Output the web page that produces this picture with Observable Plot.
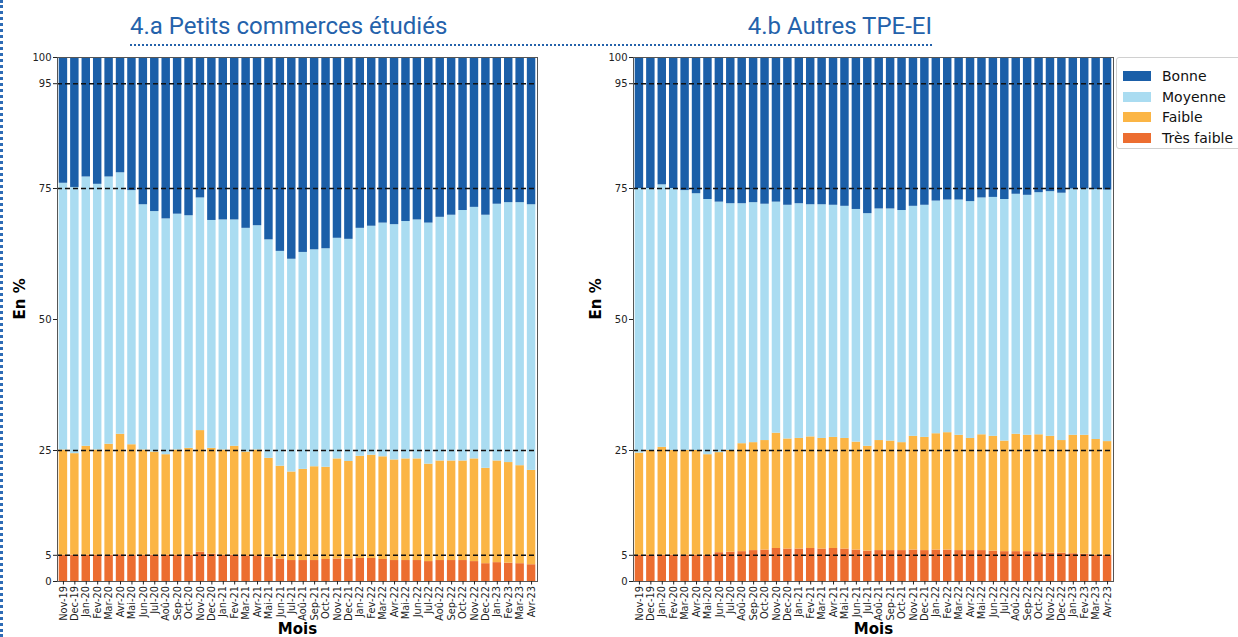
<!DOCTYPE html>
<html><head><meta charset="utf-8">
<script src="https://cdn.jsdelivr.net/npm/d3@7"></script>
<script src="https://cdn.jsdelivr.net/npm/@observablehq/plot@0.6"></script>
<style>
body{margin:0;background:#fff;width:1238px;height:637px;overflow:hidden;position:relative;font-family:"DejaVu Sans",sans-serif;}
.title{position:absolute;top:11px;font-family:Roboto,sans-serif;font-size:24px;line-height:30px;color:#2462ab;white-space:nowrap;}
#dots{position:absolute;left:130px;top:44px;width:802px;border-top:2px dotted #2462ab;}
#vdots{position:absolute;left:0;top:0;height:637px;border-left:3px dotted #2d6bb5;}
.panel{position:absolute;top:50px;}
#legend{position:absolute;left:1116px;top:57px;width:130px;height:92px;border:1px solid #d0d0d0;border-radius:3px;background:#fff;box-sizing:border-box;}
.li{position:absolute;left:6px;height:20px;display:flex;align-items:center;font-size:14px;color:#111;white-space:nowrap;}
.sw{width:28px;height:10px;margin-right:11px;}
</style></head><body>
<div id="vdots"></div>
<div class="title" style="left:130px">4.a Petits commerces étudiés</div>
<div class="title" style="right:306px">4.b Autres TPE-EI</div>
<div id="dots"></div>
<div id="left" class="panel" style="left:0px"></div>
<div id="right" class="panel" style="left:576px"></div>
<div id="legend"></div>
<script>
const months = ["Nov-19","Dec-19","Jan-20","Fev-20","Mar-20","Avr-20","Mai-20","Jun-20","Jul-20","Aoû-20","Sep-20","Oct-20","Nov-20","Dec-20","Jan-21","Fev-21","Mar-21","Avr-21","Mai-21","Jun-21","Jul-21","Aoû-21","Sep-21","Oct-21","Nov-21","Dec-21","Jan-22","Fev-22","Mar-22","Avr-22","Mai-22","Jun-22","Jul-22","Aoû-22","Sep-22","Oct-22","Nov-22","Dec-22","Jan-23","Fev-23","Mar-23","Avr-23"];
const categories = ["Très faible","Faible","Moyenne","Bonne"];
const legendOrder = ["Bonne","Moyenne","Faible","Très faible"];
const colors = ["#ec6d30","#fbb545","#aadcf1","#1b5fa8"];
const yTicks = [0,5,25,50,75,95,100];
const refLines = [5,25,75,95];

// 4.a Petits commerces étudiés (%)
const aTresFaible = [5.0,5.0,5.0,5.0,5.0,5.1,5.0,5.0,5.0,5.0,5.0,5.0,5.6,5.2,5.0,5.0,4.9,4.9,4.6,4.3,4.0,4.0,4.0,4.2,4.3,4.3,4.4,4.4,4.2,4.0,4.0,4.0,3.8,4.0,4.0,4.0,3.8,3.4,3.6,3.5,3.4,3.2];
const aFaible = [20.1,19.4,20.8,20.1,21.2,23.0,21.1,20.1,19.7,19.2,20.1,20.4,23.2,20.2,20.1,20.8,19.8,20.2,18.9,17.7,16.9,17.4,17.9,17.6,19.1,18.6,19.5,19.7,19.6,19.2,19.4,19.4,18.6,19.0,19.0,19.0,19.6,18.2,19.4,19.2,18.7,18.0];
const aMoyenne = [50.9,50.8,51.4,50.7,51.0,49.9,48.5,46.8,45.9,45.0,45.0,44.4,44.4,43.5,43.9,43.2,42.7,42.8,41.7,41.0,40.6,41.4,41.4,41.7,42.1,42.4,43.5,43.7,44.6,44.9,45.3,45.6,46.0,46.5,46.9,47.8,48.0,48.3,49.0,49.6,50.2,50.7];
const aBonne = [24.0,24.8,22.8,24.2,22.8,22.0,25.4,28.1,29.4,30.8,29.9,30.2,26.8,31.1,31.0,31.0,32.6,32.1,34.8,37.0,38.5,37.2,36.7,36.5,34.5,34.7,32.6,32.2,31.6,31.9,31.3,31.0,31.6,30.5,30.1,29.2,28.6,30.1,28.0,27.7,27.7,28.1];

// 4.b Autres TPE-EI (%)
const bTresFaible = [5.0,5.0,5.0,5.0,5.0,5.0,5.0,5.5,5.6,5.7,5.9,6.0,6.3,6.2,6.2,6.3,6.2,6.3,6.2,6.0,5.8,5.9,5.9,5.9,6.0,5.9,6.0,6.0,5.9,5.9,5.9,5.8,5.7,5.7,5.7,5.5,5.4,5.4,5.3,5.2,5.0,5.0];
const bFaible = [19.5,20.0,20.6,20.0,20.0,20.0,19.2,19.1,19.4,20.6,20.6,20.9,22.0,21.0,21.1,21.3,21.1,21.2,21.1,20.6,20.0,21.0,20.9,20.6,21.7,21.6,22.2,22.4,22.0,21.4,22.1,21.9,21.1,22.4,22.2,22.5,22.3,21.5,22.6,22.7,22.1,21.7];
const bMoyenne = [50.5,50.0,50.1,50.0,49.6,49.0,48.7,47.8,47.1,45.8,45.8,45.1,44.1,44.6,44.8,44.3,44.6,44.3,44.3,44.4,44.4,44.2,44.3,44.3,43.9,44.3,44.4,44.4,44.9,45.2,45.2,45.6,46.1,45.8,45.8,46.2,46.7,47.2,47.0,47.0,47.7,48.0];
const bBonne = [25.0,25.0,24.3,25.0,25.4,26.0,27.1,27.6,27.9,27.9,27.7,28.0,27.6,28.2,27.9,28.1,28.1,28.2,28.4,29.0,29.8,28.9,28.9,29.2,28.4,28.2,27.4,27.2,27.2,27.5,26.8,26.7,27.1,26.1,26.3,25.8,25.6,25.9,25.1,25.1,25.2,25.3];

function panel(series, width, marginRight) {
  const data = [];
  months.forEach((mo, i) => {
    categories.forEach((c, k) => data.push({mois: mo, cat: c, v: series[k][i]}));
  });
  return Plot.plot({
    width: width, height: 587,
    marginTop: 7, marginBottom: 56, marginLeft: 57, marginRight: marginRight,
    style: {background: "transparent", fontFamily: "DejaVu Sans", fontSize: "10px", color: "#222"},
    x: {domain: months, paddingInner: 0.26, paddingOuter: 0.15, round: false},
    y: {domain: [0, 100]},
    color: {domain: categories, range: colors},
    marks: [
      Plot.barY(data, {x: "mois", y: "v", fill: "cat", order: categories}),
      Plot.ruleY(refLines, {stroke: "#111", strokeWidth: 1.6, strokeDasharray: "5,3"}),
      Plot.frame({stroke: "#555"}),
      Plot.axisY({ticks: yTicks, tickSize: 4, tickPadding: 2, label: null, fontSize: 10}),
      Plot.axisX({tickRotate: -90, tickSize: 3.5, tickPadding: 1, label: null, fontSize: 9.8}),
      Plot.text(["En %"], {frameAnchor: "left", dx: -37, rotate: -90, fontWeight: "bold", fontSize: 15, fill: "#000"}),
      Plot.text(["Mois"], {frameAnchor: "bottom", dy: 52, fontWeight: "bold", fontSize: 15, fill: "#000"})
    ]
  });
}

document.getElementById("left").appendChild(panel([aTresFaible, aFaible, aMoyenne, aBonne], 576, 39));
document.getElementById("right").appendChild(panel([bTresFaible, bFaible, bMoyenne, bBonne], 580, 43));

const leg = document.getElementById("legend");
legendOrder.forEach((c, i) => {
  const d = document.createElement("div");
  d.className = "li";
  d.style.top = (8 + i * 20.7) + "px";
  const sw = document.createElement("span");
  sw.className = "sw";
  sw.style.background = colors[categories.indexOf(c)];
  d.appendChild(sw);
  d.appendChild(document.createTextNode(c));
  leg.appendChild(d);
});
</script>
</body></html>
